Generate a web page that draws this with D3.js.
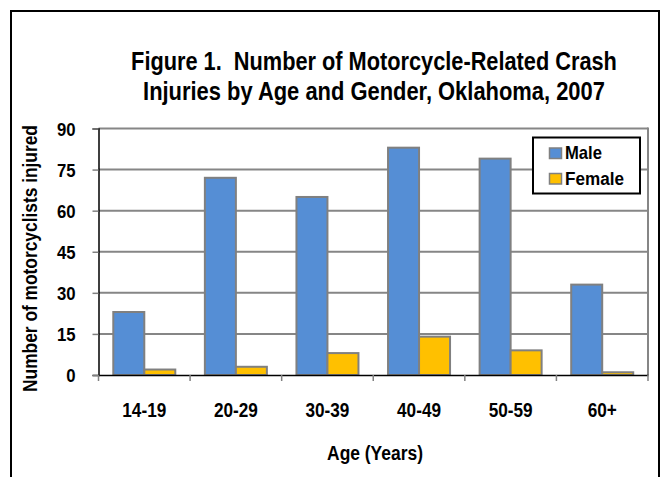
<!DOCTYPE html>
<html>
<head>
<meta charset="utf-8">
<script src="https://cdn.jsdelivr.net/npm/d3@7"></script>
<style>
  html, body { margin: 0; padding: 0; background: #fff; }
  svg text { font-family: "Liberation Sans", Arial, sans-serif; font-weight: bold; fill: #000; white-space: pre; }
</style>
</head>
<body>
<svg id="chart" width="662" height="477"></svg>
<script>
const categories = ["14-19", "20-29", "30-39", "40-49", "50-59", "60+"];
const seriesNames = ["Male", "Female"];
const maleValues = [23, 72, 65, 83, 79, 33];
const femaleValues = [2, 3, 8, 14, 9, 1];
const yTicks = [0, 15, 30, 45, 60, 75, 90];
const colors = ["#558ED5", "#FFC000"];

const titleLines = ["Figure 1.  Number of Motorcycle-Related Crash", "Injuries by Age and Gender, Oklahoma, 2007"];
const yTitle = "Number of motorcyclists injured";
const xTitle = "Age (Years)";

const svg = d3.select("#chart");
const plot = { left: 98.5, right: 648, top: 128.5, bottom: 375 };

// squeeze text horizontally (about its x anchor) to imitate a narrow face
function squeeze(sel, factor) {
  sel.each(function () {
    const X = +(this.getAttribute("x") || 0);
    d3.select(this).attr("transform", `translate(${X},0) scale(${factor},1) translate(${-X},0)`);
  });
}
function squeezeTo(sel, width) {
  sel.each(function () {
    const w = this.getComputedTextLength();
    const X = +(this.getAttribute("x") || 0);
    const base = this.getAttribute("data-base") || "";
    d3.select(this).attr("transform", `${base} translate(${X},0) scale(${width / w},1) translate(${-X},0)`);
  });
}

// outer frame
svg.append("rect").attr("x", 11).attr("y", 11).attr("width", 648).attr("height", 480)
  .attr("fill", "none").attr("stroke", "#000").attr("stroke-width", 2);

const x0 = d3.scaleBand().domain(categories).range([plot.left, plot.right]).paddingInner(0).paddingOuter(0);
const x1 = d3.scaleBand().domain(seriesNames).range([0, x0.bandwidth()]).paddingInner(0).paddingOuter(0.477);
const y = d3.scaleLinear().domain([0, 90]).range([plot.bottom, plot.top]);

// gridlines
svg.append("g").selectAll("line").data(yTicks.filter(d => d > 0)).join("line")
  .attr("x1", plot.left).attr("x2", plot.right)
  .attr("y1", d => y(d)).attr("y2", d => y(d))
  .attr("stroke", "#868686").attr("stroke-width", 2);

// right plot border
svg.append("line").attr("x1", plot.right).attr("x2", plot.right)
  .attr("y1", plot.top - 1).attr("y2", plot.bottom)
  .attr("stroke", "#868686").attr("stroke-width", 2);

// bars
const data = categories.map((c, i) => ({ cat: c, vals: [
  { s: "Male", v: maleValues[i], c: colors[0] },
  { s: "Female", v: femaleValues[i], c: colors[1] }
]}));
const groups = svg.append("g").selectAll("g").data(data).join("g")
  .attr("transform", d => `translate(${x0(d.cat)},0)`);
groups.selectAll("rect").data(d => d.vals).join("rect")
  .attr("x", d => x1(d.s))
  .attr("width", x1.bandwidth())
  .attr("y", d => y(d.v))
  .attr("height", d => y(0) - y(d.v))
  .attr("fill", d => d.c)
  .attr("stroke", "#808080").attr("stroke-width", 2);

// y axis
const yAxis = d3.axisLeft(y).tickValues(yTicks).tickSize(6).tickPadding(17);
const gy = svg.append("g").attr("transform", `translate(${plot.left},0)`).call(yAxis);
gy.attr("font-family", null).attr("font-size", null);
gy.select(".domain").attr("stroke", "#000").attr("stroke-width", 1.5);
gy.selectAll(".tick line").attr("stroke", "#808080").attr("stroke-width", 1.5);
const yLabels = gy.selectAll("text").style("font-size", "19px").attr("dy", "0.36em");
squeeze(yLabels, 0.88);

// x axis
const xTickPos = categories.map(c => x0(c)).concat([plot.right]);
const xAxis = d3.axisBottom(x0).tickSize(0).tickPadding(28);
const gx = svg.append("g").attr("transform", `translate(0,${plot.bottom})`).call(xAxis);
gx.attr("font-family", null).attr("font-size", null);
gx.select(".domain").attr("stroke", "#000").attr("stroke-width", 1.5);
const xLabels = gx.selectAll("text").style("font-size", "20px").attr("dy", "0.71em");
squeeze(xLabels, 0.86);
svg.append("g").selectAll("line").data(xTickPos).join("line")
  .attr("x1", d => d).attr("x2", d => d)
  .attr("y1", plot.bottom).attr("y2", plot.bottom + 6)
  .attr("stroke", "#808080").attr("stroke-width", 1.5);

// title
const t1 = svg.append("text").attr("text-anchor", "middle").attr("x", 374).attr("y", 70)
  .style("font-size", "25px").text(titleLines[0]);
squeezeTo(t1, 486);
const t2 = svg.append("text").attr("text-anchor", "middle").attr("x", 374).attr("y", 100)
  .style("font-size", "25px").text(titleLines[1]);
squeezeTo(t2, 462);

// axis titles
const yt = svg.append("text").attr("text-anchor", "middle")
  .attr("data-base", "translate(36.5,258.5) rotate(-90)")
  .style("font-size", "21px").text(yTitle);
squeezeTo(yt, 267);
const xt = svg.append("text").attr("text-anchor", "middle").attr("x", 375).attr("y", 460.5)
  .style("font-size", "20.5px").text(xTitle);
squeezeTo(xt, 96);

// legend
const lg = svg.append("g").attr("transform", "translate(533,137.5)");
lg.append("rect").attr("width", 107).attr("height", 56).attr("fill", "#fff")
  .attr("stroke", "#000").attr("stroke-width", 2);
const legendWidths = [37, 59];
seriesNames.forEach((s, i) => {
  lg.append("rect").attr("x", 16.5).attr("y", 10.5 + i * 25.5).attr("width", 12).attr("height", 10.5)
    .attr("fill", colors[i]).attr("stroke", "#808080").attr("stroke-width", 1.5);
  const t = lg.append("text").attr("x", 32).attr("y", 22 + i * 25.5)
    .style("font-size", "19px").text(s);
  squeezeTo(t, legendWidths[i]);
});
</script>
</body>
</html>
